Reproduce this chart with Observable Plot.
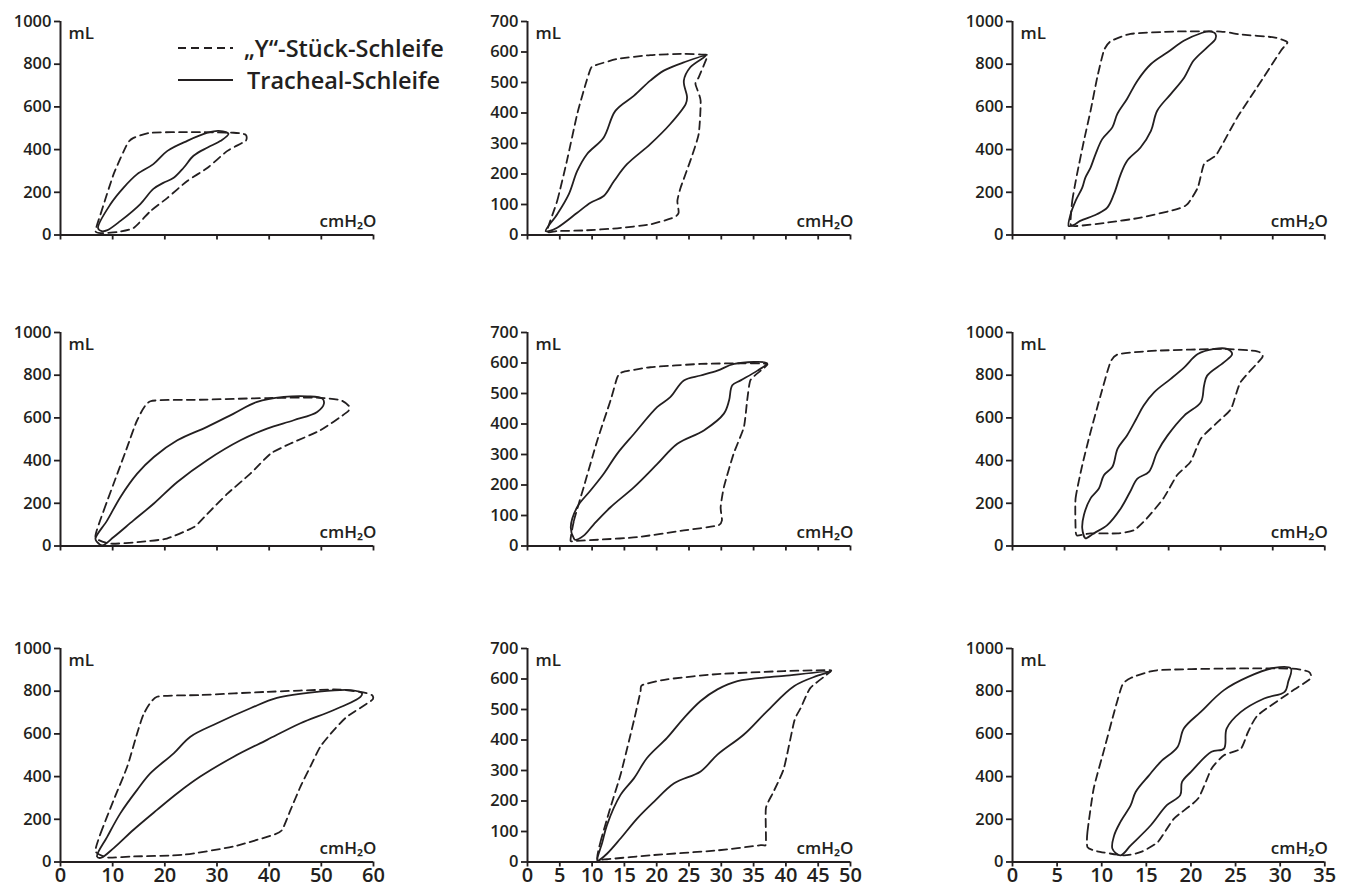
<!DOCTYPE html>
<html>
<head>
<meta charset="utf-8">
<script src="https://cdn.jsdelivr.net/npm/d3@7"></script>
<script src="https://cdn.jsdelivr.net/npm/@observablehq/plot@0.6"></script>
<style>
  body { margin: 0; background: #fff; }
  #chart { position: relative; width: 1347px; height: 888px; font-family: 'Open Sans', sans-serif; color: #231f20; overflow: hidden; }
  #chart svg { position: absolute; }
</style>
</head>
<body>
<div id="chart"></div>
<script>
// ---------- tick values ----------
const xTicks60 = [0, 10, 20, 30, 40, 50, 60];
const xTicks50 = [0, 5, 10, 15, 20, 25, 30, 35, 40, 45, 50];
const xTicks35 = [0, 5, 10, 15, 20, 25, 30, 35];
const xTicks30 = [0, 5, 10, 15, 20, 25, 30];
const yTicks1000 = [0, 200, 400, 600, 800, 1000];
const yTicks700 = [0, 100, 200, 300, 400, 500, 600, 700];

// ---------- legend / labels ----------
const seriesNames = ["„Y“-Stück-Schleife", "Tracheal-Schleife"];
const yUnit = "mL";
const xUnit = "cmH₂O";

// ---------- loops: [pressure cmH2O, volume mL] ----------
const yLoop1 = [[6.7,19],[7.7,99],[10.2,286],[12.8,427],[14,455],[17.3,479],[25,482],[33.2,479],[35.5,470],[35.5,441],[32,394],[28.2,315],[24.3,253],[20.5,174],[17.3,113],[14,33],[10.9,14],[7.7,9]];
const trLoop1 = [[7.2,32],[9.6,145],[12.1,222],[14.7,285],[17.8,332],[20.5,394],[24.3,441],[28.2,479],[30.3,488],[32.2,474],[30.7,441],[28.2,410],[25.5,371],[23.6,315],[21.7,268],[19.7,244],[17.8,216],[15.3,145],[11.5,66],[9,23],[7.9,18]];

const yLoop2 = [[3.05,13],[4.6,112],[6.1,243],[7.7,397],[9.0,495],[9.75,544],[10.3,555],[13.9,577],[19.0,590],[24.2,594],[27.6,591],[27.8,583],[26.5,517],[26.0,495],[26.8,440],[26.5,331],[25.2,243],[23.7,155],[23.2,112],[23.4,73],[22.6,57],[19.0,35],[13.9,22],[8.7,15],[4.6,13]];
const trLoop2 = [[2.8,13],[4.6,68],[6.4,134],[7.7,210],[9.2,265],[11.8,320],[13.6,407],[16.5,457],[19.0,506],[21.1,539],[24.2,566],[27.6,588],[25.2,550],[24.2,506],[24.7,451],[24.5,430],[22.1,364],[19.0,298],[15.4,232],[13.4,177],[11.8,128],[9.75,106],[7.7,73],[4.6,24],[3.3,13]];

const yLoop3 = [[5.58,50],[5.74,160],[6.2,285],[6.86,441],[7.5,582],[8.14,738],[8.78,864],[9.42,907],[11.35,942],[15.5,953],[20.0,953],[21.9,939],[25.1,926],[26.4,903],[25.8,864],[23.5,692],[21.6,551],[20.0,410],[19.5,371],[18.4,332],[17.8,222],[16.8,144],[15.8,121],[12.3,81],[9.1,58],[6.2,42]];
const trLoop3 = [[5.4,42],[5.58,97],[6.06,160],[6.7,222],[7.0,269],[7.5,316],[7.98,379],[8.62,449],[9.59,504],[10.07,567],[11.0,637],[12.0,723],[13.3,801],[14.9,856],[16.5,911],[18.1,945],[18.9,954],[19.5,942],[19.5,919],[18.7,879],[17.4,817],[16.5,738],[15.2,660],[13.9,582],[13.3,488],[12.3,410],[11.0,347],[10.4,285],[9.74,191],[9.1,128],[8.1,97],[6.5,66],[5.9,47]];

const yLoop4 = [[6.7,42],[8.3,167],[10.9,339],[12.8,464],[14.7,589],[17.25,678],[26.8,685],[39.6,693],[49.2,695],[53.7,683],[55.3,655],[55.0,628],[49.8,542],[44.1,480],[40.3,433],[36.4,339],[32.0,245],[28.2,152],[25.6,89],[20.4,35],[15.3,19],[9.6,11]];
const trLoop4 = [[6.7,35],[8.95,120],[11.5,230],[14.7,339],[17.9,417],[22.4,495],[28.1,558],[33.2,620],[37.7,675],[42.8,698],[47.3,701],[50.2,690],[50.5,667],[49.2,628],[44.7,589],[39.6,550],[34.5,495],[28.1,402],[22.4,300],[17.9,199],[14.0,120],[10.2,42],[8.0,3],[7.0,19]];

const yLoop5 = [[6.66,18],[7.2,84],[8.7,193],[10.8,346],[12.85,477],[13.9,553],[14.7,570],[19.0,586],[26.8,597],[33.5,599],[37.1,597],[36.1,575],[34.5,543],[34.0,477],[33.5,390],[31.9,302],[30.4,193],[29.9,127],[30.1,84],[29.4,67],[24.2,51],[17.0,29],[11.3,21],[7.5,17]];
const trLoop5 = [[7.2,24],[6.7,62],[7.7,128],[9.75,182],[11.8,237],[13.9,303],[16.5,368],[20.1,456],[22.1,488],[24.2,543],[26.8,559],[29.4,575],[32.0,597],[37.1,599],[35.6,575],[33.0,543],[31.7,527],[31.2,477],[30.4,434],[27.3,379],[23.2,335],[20.1,269],[16.5,193],[12.85,127],[10.3,72],[8.7,34],[7.4,20]];

const yLoop6 = [[6.06,83],[6.06,223],[6.7,378],[7.5,534],[8.46,705],[9.4,860],[10.2,899],[13.9,915],[20.3,923],[23.5,912],[24.0,884],[21.9,767],[21.0,643],[19.7,580],[18.1,503],[17.1,394],[15.8,331],[14.5,223],[12.9,129],[11.7,75],[10.1,59],[7.5,59],[6.2,49]];
const trLoop6 = [[7.0,36],[6.7,83],[6.86,145],[7.5,223],[8.3,269],[8.78,331],[9.6,371],[10.1,456],[11.0,518],[11.9,596],[12.6,658],[13.6,720],[15.2,783],[16.5,837],[17.8,899],[19.4,923],[20.6,923],[21.1,899],[20.3,860],[18.7,798],[18.4,751],[18.1,674],[16.5,611],[14.9,518],[13.9,440],[13.1,347],[12.0,316],[11.3,254],[10.4,176],[9.1,98],[7.8,59],[7.2,39]];

const yLoop7 = [[6.7,50],[7.7,135],[10.2,291],[12.8,447],[14.7,603],[16.0,696],[18.5,774],[26.8,782],[39.6,797],[52.4,808],[57.5,797],[59.7,782],[59.7,758],[54.9,680],[52.4,618],[49.8,540],[47.9,447],[46.0,353],[44.1,244],[42.5,151],[40.9,128],[33.2,73],[23.6,34],[14.1,26],[9.0,21]];
const trLoop7 = [[7.0,26],[9.0,120],[11.5,229],[14.7,338],[17.25,416],[21.7,509],[24.9,587],[30.0,650],[36.4,720],[41.5,769],[49.2,797],[55.6,805],[57.8,790],[57.5,774],[52.4,712],[46.0,650],[39.6,572],[33.2,493],[26.8,400],[22.4,322],[18.5,244],[14.0,151],[10.2,65],[7.7,19]];

const yLoop8 = [[10.8,11],[11.3,66],[12.8,176],[14.4,286],[15.7,396],[16.7,484],[17.5,560],[17.75,580],[21.6,599],[29.4,616],[39.7,626],[46.4,629],[46.9,624],[43.8,571],[42.3,505],[41.3,462],[39.7,308],[38.1,231],[36.9,176],[36.9,60],[36.1,55],[29.4,38],[19.0,22],[12.3,9]];
const trLoop8 = [[10.8,5],[11.6,66],[12.3,121],[14.4,220],[16.5,275],[18.5,341],[21.6,407],[24.2,472],[26.8,528],[29.4,566],[32.5,593],[39.7,610],[46.9,624],[44.8,610],[41.3,577],[37.1,495],[33.5,418],[29.4,352],[26.8,297],[22.7,258],[19.6,198],[17.0,143],[14.4,77],[12.3,27],[11.0,5]];

const yLoop9 = [[8.4,70],[8.4,141],[9.1,344],[10.3,531],[11.4,703],[12.3,828],[13.25,862],[16.2,898],[23.7,906],[31.2,906],[33.2,891],[33.4,859],[31.2,797],[27.5,688],[26.4,609],[25.6,531],[23.7,500],[22.3,437],[20.8,297],[18.1,203],[16.3,94],[14.4,47],[12.5,31],[9.5,50]];
const trLoop9 = [[12.1,31],[11.2,62],[11.4,125],[12.1,188],[13.25,266],[13.8,328],[15.3,406],[16.6,469],[18.5,539],[19.2,625],[21.1,703],[23.7,805],[26.4,867],[29.3,909],[31.2,906],[30.9,844],[30.5,797],[28.2,766],[25.6,703],[24.0,625],[23.7,531],[22.3,516],[20.0,422],[19.0,375],[18.8,313],[17.3,266],[15.5,172],[13.25,78]];

// ---------- layout ----------
const ink = "#231f20";
const colLeft = [60, 527.3, 1011.8];
const colWidth = [313, 323, 312.3];
const rowTop = [21.3, 332.2, 647.6];
const plotH = 213.5;
const mL = 60, mR = 30, mT = 10, mB = 26;

const panels = [
  {row:0, col:0, dashed:yLoop1, solid:trLoop1, xd:[0,60], xt:xTicks60, yd:[0,1000], yt:yTicks1000},
  {row:0, col:1, dashed:yLoop2, solid:trLoop2, xd:[0,50], xt:xTicks50, yd:[0,700],  yt:yTicks700},
  {row:0, col:2, dashed:yLoop3, solid:trLoop3, xd:[0,30], xt:xTicks30, yd:[0,1000], yt:yTicks1000},
  {row:1, col:0, dashed:yLoop4, solid:trLoop4, xd:[0,60], xt:xTicks60, yd:[0,1000], yt:yTicks1000},
  {row:1, col:1, dashed:yLoop5, solid:trLoop5, xd:[0,50], xt:xTicks50, yd:[0,700],  yt:yTicks700},
  {row:1, col:2, dashed:yLoop6, solid:trLoop6, xd:[0,30], xt:xTicks30, yd:[0,1000], yt:yTicks1000},
  {row:2, col:0, dashed:yLoop7, solid:trLoop7, xd:[0,60], xt:xTicks60, yd:[0,1000], yt:yTicks1000},
  {row:2, col:1, dashed:yLoop8, solid:trLoop8, xd:[0,50], xt:xTicks50, yd:[0,700],  yt:yTicks700},
  {row:2, col:2, dashed:yLoop9, solid:trLoop9, xd:[0,35], xt:xTicks35, yd:[0,1000], yt:yTicks1000}
];

const chart = document.getElementById("chart");
const fmt = d => String(d);

for (const p of panels) {
  const w = colWidth[p.col];
  const showX = p.row === 2;
  const svg = Plot.plot({
    width: mL + w + mR,
    height: mT + plotH + mB,
    marginLeft: mL, marginRight: mR, marginTop: mT, marginBottom: mB,
    x: {domain: p.xd},
    y: {domain: p.yd},
    style: {fontFamily: "'Open Sans', sans-serif", fontSize: "17px", fontWeight: 600, color: ink, background: "transparent", overflow: "visible"},
    marks: [
      Plot.axisY(p.yt, {tickSize: 6, tickPadding: 3, label: null, strokeWidth: 1.8, fill: ink, tickFormat: fmt, fontSize: 16.5}),
      Plot.axisX(p.xt, {tickSize: 5, tickPadding: 1, label: null, strokeWidth: 1.8, fill: ink, fontSize: 20, tickFormat: showX ? fmt : (() => "")}),
      Plot.ruleX([0], {stroke: ink, strokeWidth: 2}),
      Plot.ruleY([0], {stroke: ink, strokeWidth: 2}),
      Plot.line(p.dashed, {x: d => d[0], y: d => d[1], curve: "cardinal-closed", tension: 0.45, stroke: ink, strokeWidth: 1.8, strokeDasharray: "8,5"}),
      Plot.line(p.solid, {x: d => d[0], y: d => d[1], curve: "catmull-rom-closed", stroke: ink, strokeWidth: 1.8}),
      Plot.text([yUnit], {text: d => d, frameAnchor: "top-left", textAnchor: "start", lineAnchor: "top", dx: 8, dy: 5, fill: ink}),
      Plot.text([xUnit], {text: d => d, frameAnchor: "bottom-right", textAnchor: "end", lineAnchor: "bottom", dx: 3, dy: -8, fill: ink})
    ]
  });
  svg.style.left = (colLeft[p.col] - mL) + "px";
  svg.style.top = (rowTop[p.row] - mT) + "px";
  chart.appendChild(svg);
}

// ---------- legend ----------
const ns = "http://www.w3.org/2000/svg";
const leg = document.createElementNS(ns, "svg");
leg.setAttribute("width", 320);
leg.setAttribute("height", 80);
leg.style.left = "170px";
leg.style.top = "30px";
const styles = ["8,5", null];
seriesNames.forEach((name, i) => {
  const yy = 18 + i * 32;
  const ln = document.createElementNS(ns, "line");
  ln.setAttribute("x1", 8); ln.setAttribute("x2", 63);
  ln.setAttribute("y1", yy); ln.setAttribute("y2", yy);
  ln.setAttribute("stroke", ink); ln.setAttribute("stroke-width", 1.8);
  if (styles[i]) ln.setAttribute("stroke-dasharray", styles[i]);
  leg.appendChild(ln);
  const tx = document.createElementNS(ns, "text");
  tx.setAttribute("x", i === 0 ? 74 : 77);
  tx.setAttribute("y", yy + 9);
  tx.setAttribute("fill", ink);
  tx.setAttribute("font-family", "'Open Sans', sans-serif");
  tx.setAttribute("font-size", "23.5px");
  tx.setAttribute("font-weight", 600);
  tx.textContent = name;
  leg.appendChild(tx);
});
chart.appendChild(leg);
</script>
</body>
</html>
